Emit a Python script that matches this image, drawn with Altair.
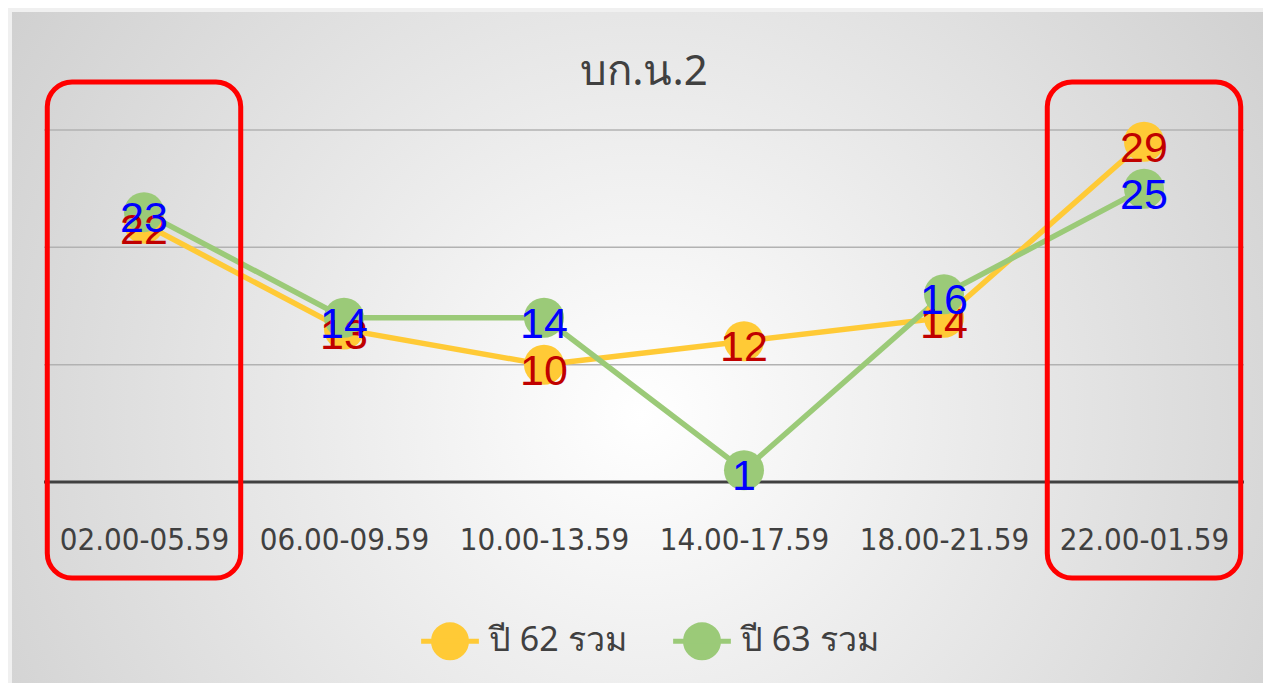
import altair as alt
import pandas as pd

categories = ["02.00-05.59", "06.00-09.59", "10.00-13.59", "14.00-17.59", "18.00-21.59", "22.00-01.59"]
series_names = ["ปี 62 รวม", "ปี 63 รวม"]
values_62 = [22, 13, 10, 12, 14, 29]
values_63 = [23, 14, 14, 1, 16, 25]
grid_values = [10, 20, 30]
baseline_value = [0]
highlight_categories = ["02.00-05.59", "22.00-01.59"]
chart_title = "บก.น.2"

line_colors = ["#FFCA36", "#9BCA78"]
label_colors = ["#C00000", "#0000FF"]

rows = []
for i, c in enumerate(categories):
    rows.append({"cat": c, "series": series_names[0], "value": values_62[i]})
for i, c in enumerate(categories):
    rows.append({"cat": c, "series": series_names[1], "value": values_63[i]})
df = pd.DataFrame(rows)

W, H = 1200, 352
x_enc = alt.X("cat:N", sort=categories, scale=alt.Scale(type="point", padding=0.5, domain=categories),
              axis=alt.Axis(title=None, domain=False, ticks=False, labelPadding=43, labelFontSize=31,
                            labelColor="#404040", labelFont="DejaVu Sans Condensed", labelAngle=0, zindex=1))
y_scale = alt.Scale(domain=[0, 30], nice=False, zero=True)
y_enc = alt.Y("value:Q", scale=y_scale, axis=None)

bg = alt.Chart(pd.DataFrame({"a": [0]})).mark_rect(
    fill=alt.Gradient(gradient="radial",
                      stops=[alt.GradientStop(color="#ffffff", offset=0),
                             alt.GradientStop(color="#c4c4c4", offset=1)],
                      x1=0.5, y1=0.55, x2=0.5, y2=0.55, r1=0, r2=0.75)
).encode(x=alt.value(-32), x2=alt.value(1227), y=alt.value(-118), y2=alt.value(561))

title_mark = alt.Chart(pd.DataFrame({"t": [chart_title]})).mark_text(
    fontSize=42, color="#404040", font="Noto Sans", baseline="middle", align="center"
).encode(x=alt.value(W / 2), y=alt.value(-58), text="t:N")

grid = alt.Chart(pd.DataFrame({"g": grid_values})).mark_rule(color="#b2b2b2", strokeWidth=1.5).encode(
    y=alt.Y("g:Q", scale=y_scale, axis=None), x=alt.value(0), x2=alt.value(W))
base = alt.Chart(pd.DataFrame({"g": baseline_value})).mark_rule(color="#404040", strokeWidth=3).encode(
    y=alt.Y("g:Q", scale=y_scale, axis=None), x=alt.value(0), x2=alt.value(W))

color_enc = alt.Color("series:N", scale=alt.Scale(domain=series_names, range=line_colors),
                      legend=alt.Legend(title=None, orient="none", direction="horizontal",
                                        legendX=387, legendY=492,
                                        symbolType="M -1.75 0 L 1.75 0 M 1 0 A 1 1 0 1 1 -1 0 A 1 1 0 1 1 1 0 Z",
                                        symbolSize=1089, symbolStrokeWidth=5, symbolOpacity=1,
                                        labelFontSize=34, labelColor="#404040", labelFont="Noto Sans",
                                        labelOffset=20, columnPadding=36, padding=0))

lines = alt.Chart(df).mark_line(strokeWidth=5.5).encode(x=x_enc, y=y_enc, color=color_enc,
                                                        order=alt.Order("series:N"))
points = alt.Chart(df).mark_point(filled=True, size=1600, opacity=1, shape="circle").encode(
    x=x_enc, y=y_enc, color=alt.Color("series:N", scale=alt.Scale(domain=series_names, range=line_colors), legend=None),
    order=alt.Order("series:N"))

texts = []
for s, col in zip(series_names, label_colors):
    texts.append(alt.Chart(df).transform_filter(alt.datum.series == s).mark_text(
        font="Liberation Sans", fontSize=43, color=col, dy=7, baseline="middle").encode(
        x=x_enc, y=y_enc, text="value:Q"))

boxes = alt.Chart(pd.DataFrame({"cat": highlight_categories})).mark_point(
    shape="M -0.29 -1 L 0.29 -1 A 0.1 0.1 0 0 1 0.39 -0.9 L 0.39 0.9 A 0.1 0.1 0 0 1 0.29 1 L -0.29 1 A 0.1 0.1 0 0 1 -0.39 0.9 L -0.39 -0.9 A 0.1 0.1 0 0 1 -0.29 -1 Z",
    filled=False, stroke="#FF0000", strokeWidth=5, size=496 * 496, opacity=1).encode(
    x=x_enc, y=alt.value(200))

chart = alt.layer(bg, title_mark, grid, base, lines, points, *texts, boxes).properties(
    width=W, height=H,
    autosize=alt.AutoSizeParams(type="none"),
    padding={"left": 36, "top": 122, "right": 19, "bottom": 201},
    background="#f0f0f0",
).configure_view(stroke=None)

chart.save("out.html", embed_options={"renderer": "svg", "actions": False})
